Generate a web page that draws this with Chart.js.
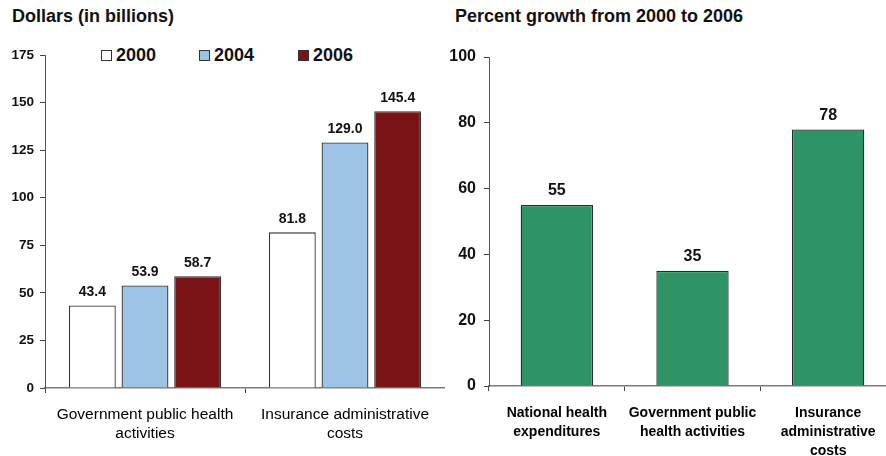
<!DOCTYPE html>
<html>
<head>
<meta charset="utf-8">
<script src="https://cdn.jsdelivr.net/npm/chart.js@4.4.1/dist/chart.umd.min.js"></script>
<style>
  html, body { margin: 0; padding: 0; background: #fff; overflow: hidden; }
  body { width: 886px; height: 456px; position: relative; font-family: "Liberation Sans", Arial, sans-serif; }
  .title { position: absolute; top: 5px; font-weight: bold; font-size: 18px; line-height: 22px; color: #111; white-space: nowrap; }
  .legend { position: absolute; top: 45px; font-weight: bold; font-size: 18px; color: #111; }
  .legend span.sw { position: absolute; top: 5px; width: 9px; height: 9px; border: 1px solid #333; }
  .legend span.tx { position: absolute; top: 0; line-height: 20px; }
  canvas { position: absolute; top: 0; }
</style>
</head>
<body>
<div class="title" style="left:12px">Dollars (in billions)</div>
<div class="title" style="left:455px">Percent growth from 2000 to 2006</div>
<div id="legend" class="legend"></div>
<canvas id="left" width="445" height="456" style="left:0;width:445px;height:456px"></canvas>
<canvas id="right" width="453" height="456" style="left:443px;width:453px;height:456px"></canvas>
<script>
// Spending in dollars (billions)
const spendCategories = [["Government public health", "activities"], ["Insurance administrative", "costs"]];
const years = ["2000", "2004", "2006"];
const spend2000 = [43.4, 81.8];
const spend2004 = [53.9, 129.0];
const spend2006 = [58.7, 145.4];
const yearColors = ["#ffffff", "#9dc3e6", "#7a1416"];

// Percent growth 2000 to 2006
const growthCategories = [["National health", "expenditures"], ["Government public", "health activities"], ["Insurance", "administrative", "costs"]];
const growthValues = [55, 35, 78];

const FONT = '"Liberation Sans", Arial, sans-serif';

// Legend for the dollar chart
const legendPos = [{sw: 101, tx: 116}, {sw: 199, tx: 214}, {sw: 298, tx: 313}];
const legendEl = document.getElementById('legend');
years.forEach((y, i) => {
  const sw = document.createElement('span');
  sw.className = 'sw';
  sw.style.left = legendPos[i].sw + 'px';
  sw.style.background = yearColors[i];
  const tx = document.createElement('span');
  tx.className = 'tx';
  tx.style.left = legendPos[i].tx + 'px';
  tx.textContent = y;
  legendEl.appendChild(sw);
  legendEl.appendChild(tx);
});

// Writes each bar's value above it
function valueLabels(fontSize, offset, fmt) {
  return {
    id: 'valueLabels',
    afterDatasetsDraw(chart) {
      const ctx = chart.ctx;
      ctx.save();
      ctx.font = 'bold ' + fontSize + 'px ' + FONT;
      ctx.fillStyle = '#111';
      ctx.textAlign = 'center';
      ctx.textBaseline = 'middle';
      chart.data.datasets.forEach((ds, di) => {
        chart.getDatasetMeta(di).data.forEach((bar, i) => {
          ctx.fillText(fmt(ds.data[i]), bar.x, bar.y - offset);
        });
      });
      ctx.restore();
    }
  };
}

function axisOptions(opts) {
  return {
    x: {
      offset: true,
      grid: { offset: true, drawOnChartArea: false, drawTicks: true, tickLength: 5, color: '#444', lineWidth: 1 },
      border: { display: true, color: '#7a7a7a', width: 1.5 },
      ticks: { color: '#000', padding: opts.xPad, maxRotation: 0, autoSkip: false,
        font: { family: FONT, size: opts.xSize, weight: opts.xWeight, lineHeight: opts.xLine } },
      afterFit(s) { s.height = opts.xHeight; }
    },
    y: {
      min: 0, max: opts.yMax,
      grid: { drawOnChartArea: false, drawTicks: true, tickLength: 5, color: '#444', lineWidth: 1 },
      border: { display: true, color: '#555', width: 1 },
      ticks: { stepSize: opts.yStep, color: '#111', padding: opts.yPad,
        font: { family: FONT, size: opts.ySize, weight: 'bold' } },
      afterFit(s) { s.width = opts.yWidth; }
    }
  };
}

new Chart(document.getElementById('left'), {
  type: 'bar',
  data: {
    labels: spendCategories,
    datasets: [spend2000, spend2004, spend2006].map((d, i) => ({
      label: years[i],
      data: d,
      backgroundColor: yearColors[i],
      borderColor: '#333',
      borderWidth: 1.3,
      categoryPercentage: 0.79,
      barPercentage: 0.89
    }))
  },
  options: {
    responsive: false,
    animation: false,
    layout: { padding: { top: 55, left: 0, right: 0, bottom: 0 } },
    plugins: { legend: { display: false }, tooltip: { enabled: false } },
    scales: axisOptions({ yMax: 175, yStep: 25, ySize: 13.5, yPad: 6, yWidth: 45,
      xSize: 15.5, xWeight: 'normal', xLine: 1.22, xPad: 12, xHeight: 68 })
  },
  plugins: [valueLabels(14, 13, v => v.toFixed(1))]
});

new Chart(document.getElementById('right'), {
  type: 'bar',
  data: {
    labels: growthCategories,
    datasets: [{
      label: 'Percent growth',
      data: growthValues,
      backgroundColor: '#2e9466',
      borderColor: '#2a2a2a',
      borderWidth: 1.3,
      categoryPercentage: 1,
      barPercentage: 0.533
    }]
  },
  options: {
    responsive: false,
    animation: false,
    layout: { padding: { top: 57, left: 0, right: 0, bottom: 0 } },
    plugins: { legend: { display: false }, tooltip: { enabled: false } },
    scales: axisOptions({ yMax: 100, yStep: 20, ySize: 16, yPad: 8, yWidth: 46,
      xSize: 14, xWeight: 'bold', xLine: 1.38, xPad: 12, xHeight: 70 })
  },
  plugins: [valueLabels(16, 14, v => String(v))]
});
</script>
</body>
</html>
